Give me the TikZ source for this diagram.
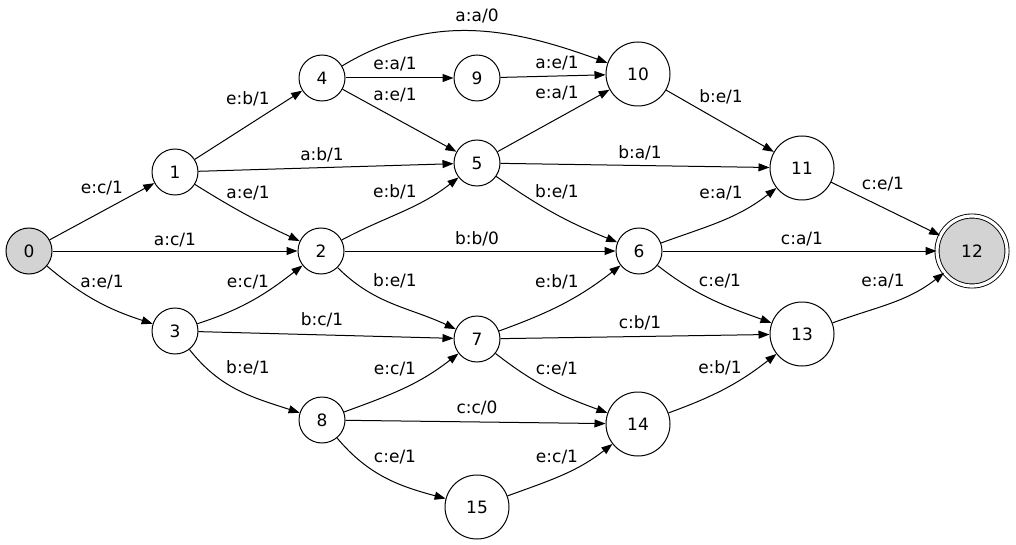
\documentclass[tikz,border=0pt]{standalone}
\usepackage{fontspec}
\setmainfont{DejaVu Sans}
\usetikzlibrary{arrows.meta}
\definecolor{gvgray}{HTML}{D3D3D3}
\begin{document}
\begin{tikzpicture}[x=1pt,y=-1pt,
  st/.style={circle,draw,line width=1pt,minimum size=46pt,inner sep=0pt,font=\fontsize{17}{18}\selectfont},
  bigst/.style={st,minimum size=64pt},
  initst/.style={st,fill=gvgray},
  finst/.style={bigst,minimum size=70pt,fill=gvgray,double,double distance=3.2pt,line width=0.9pt},
  e/.style={line width=1pt,-{Triangle[length=11pt,width=8pt]}},
  lab/.style={font=\fontsize{17}{18}\selectfont,inner sep=0pt}]
\useasboundingbox (0,0) rectangle (1016,545);
\node[initst] (n0) at (29,251) {0};
\node[st] (n1) at (175,172) {1};
\node[st] (n2) at (321,251) {2};
\node[st] (n3) at (175,331) {3};
\node[st] (n4) at (322,78) {4};
\node[st] (n5) at (477,163) {5};
\node[st] (n6) at (639,251) {6};
\node[st] (n7) at (477,339) {7};
\node[st] (n8) at (322,420) {8};
\node[st] (n9) at (477,78) {9};
\node[bigst] (n10) at (638,74) {10};
\node[bigst] (n11) at (802,168) {11};
\node[finst] (n12) at (972,251) {12};
\node[bigst] (n13) at (802,334) {13};
\node[bigst] (n14) at (638,424) {14};
\node[bigst] (n15) at (477,507) {15};
% edges
\draw[e] (n0) -- (n1);
\draw[e] (n0) -- (n2);
\draw[e] (n0) to[out=-40,in=162] (n3);
\draw[e] (n1) -- (n4);
\draw[e] (n1) -- (n5);
\draw[e] (n1) to[out=-32,in=155] (n2);
\draw[e] (n3) to[out=18,in=218] (n2);
\draw[e] (n2) to[out=28,in=218] (n5);
\draw[e] (n2) -- (n6);
\draw[e] (n2) to[out=-45,in=155] (n7);
\draw[e] (n3) -- (n7);
\draw[e] (n3) to[out=-52,in=162] (n8);
\draw[e] (n4) to[out=31,in=160] (n10);
\draw[e] (n4) -- (n9);
\draw[e] (n4) -- (n5);
\draw[e] (n9) -- (n10);
\draw[e] (n5) -- (n10);
\draw[e] (n5) -- (n11);
\draw[e] (n5) to[out=-35,in=158] (n6);
\draw[e] (n10) -- (n11);
\draw[e] (n6) to[out=20,in=218] (n11);
\draw[e] (n6) -- (n12);
\draw[e] (n6) to[out=-38,in=160] (n13);
\draw[e] (n11) -- (n12);
\draw[e] (n13) to[out=20,in=218] (n12);
\draw[e] (n7) to[out=20,in=218] (n6);
\draw[e] (n7) -- (n13);
\draw[e] (n7) to[out=-38,in=160] (n14);
\draw[e] (n8) to[out=20,in=218] (n7);
\draw[e] (n8) -- (n14);
\draw[e] (n8) to[out=-50,in=165] (n15);
\draw[e] (n15) to[out=20,in=218] (n14);
\draw[e] (n14) to[out=20,in=218] (n13);
% labels
\node[lab] (l01) at (102,188) {e:c/1};
\node[lab] (l02) at (175,240) {a:c/1};
\node[lab] (l03) at (102,282) {a:e/1};
\node[lab] (l14) at (248,99) {e:b/1};
\node[lab] (l15) at (322,155) {a:b/1};
\node[lab] (l12) at (248,193) {a:e/1};
\node[lab] (l25) at (395,192) {e:b/1};
\node[lab] (l26) at (477,239) {b:b/0};
\node[lab] (l27) at (395,281) {b:e/1};
\node[lab] (l32) at (248,282) {e:c/1};
\node[lab] (l37) at (322,320) {b:c/1};
\node[lab] (l38) at (248,368) {b:e/1};
\node[lab] (l410) at (477,16) {a:a/0};
\node[lab] (l49) at (395,64) {e:a/1};
\node[lab] (l45) at (395,95) {a:e/1};
\node[lab] (l910) at (557,63) {a:e/1};
\node[lab] (l510) at (557,93) {e:a/1};
\node[lab] (l511) at (640,153) {b:a/1};
\node[lab] (l56) at (557,192) {b:e/1};
\node[lab] (l1011) at (721,97) {b:e/1};
\node[lab] (l611) at (721,193) {e:a/1};
\node[lab] (l612) at (802,239) {c:a/1};
\node[lab] (l613) at (720,281) {c:e/1};
\node[lab] (l1112) at (883,184) {c:e/1};
\node[lab] (l1312) at (883,281) {e:a/1};
\node[lab] (l76) at (557,282) {e:b/1};
\node[lab] (l713) at (640,323) {c:b/1};
\node[lab] (l714) at (557,369) {c:e/1};
\node[lab] (l87) at (395,369) {e:c/1};
\node[lab] (l814) at (477,408) {c:c/0};
\node[lab] (l815) at (395,457) {c:e/1};
\node[lab] (l1514) at (557,457) {e:c/1};
\node[lab] (l1413) at (720,368) {e:b/1};
\end{tikzpicture}
\end{document}
